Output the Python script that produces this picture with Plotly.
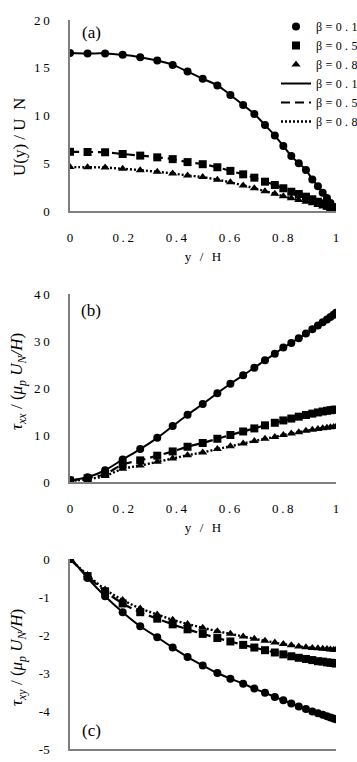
import plotly.graph_objects as go

# ---- data ----
y_over_H = [0, 0.066, 0.132, 0.198, 0.264, 0.328, 0.386, 0.442, 0.499, 0.554, 0.603, 0.651,
            0.693, 0.733, 0.770, 0.802, 0.832, 0.860, 0.887, 0.911, 0.932, 0.950, 0.966,
            0.979, 0.991, 1.0]

U_b01 = [16.55, 16.5, 16.5, 16.35, 16.1, 15.75, 15.3, 14.6, 13.85, 13.15, 12.15, 11.1,
         10.15, 9.0, 7.9, 6.8, 5.75, 5.0, 4.3, 3.3, 2.6, 1.9, 1.35, 0.85, 0.45, 0.05]
U_b05 = [6.2, 6.18, 6.15, 5.97, 5.8, 5.62, 5.43, 5.12, 4.9, 4.58, 4.2, 3.84,
         3.49, 3.07, 2.72, 2.38, 2.02, 1.78, 1.5, 1.23, 0.97, 0.8, 0.58, 0.4, 0.25, 0.05]
U_b08 = [4.6, 4.58, 4.55, 4.42, 4.28, 4.1, 3.93, 3.72, 3.55, 3.28, 3.0, 2.68,
         2.38, 2.08, 1.8, 1.55, 1.33, 1.15, 0.98, 0.8, 0.63, 0.48, 0.35, 0.22, 0.12, 0.03]

txx_b01 = [0.4, 1.0, 2.5, 4.8, 7.0, 9.4, 11.9, 14.3, 16.6, 18.9, 20.9, 22.7,
           24.3, 25.9, 27.3, 28.6, 29.6, 30.6, 31.6, 32.5, 33.3, 34.0, 34.6, 35.1, 35.6, 36.0]
txx_b05 = [0.3, 0.8, 1.7, 3.7, 4.6, 5.6, 6.5, 7.5, 8.3, 9.2, 10.0, 10.75,
           11.4, 12.05, 12.6, 13.1, 13.5, 13.9, 14.25, 14.55, 14.8, 15.0, 15.15, 15.27, 15.36, 15.4]
txx_b08 = [0.2, 0.6, 1.3, 2.8, 3.5, 4.3, 5.0, 5.7, 6.3, 7.0, 7.6, 8.2,
           8.7, 9.2, 9.6, 10.0, 10.3, 10.6, 10.9, 11.1, 11.3, 11.45, 11.55, 11.65, 11.72, 11.75]

txy_b01 = [0.05, -0.5, -0.98, -1.4, -1.77, -2.06, -2.33, -2.58, -2.8, -3.0, -3.15, -3.28,
           -3.41, -3.52, -3.63, -3.72, -3.8, -3.88, -3.95, -4.01, -4.06, -4.1, -4.14, -4.17, -4.2, -4.22]
txy_b05 = [0.0, -0.45, -0.85, -1.17, -1.4, -1.57, -1.72, -1.85, -1.97, -2.08, -2.17, -2.26,
           -2.33, -2.4, -2.46, -2.51, -2.56, -2.6, -2.63, -2.66, -2.69, -2.7, -2.72, -2.73, -2.74, -2.75]
txy_b08 = [0.0, -0.42, -0.8, -1.08, -1.3, -1.46, -1.6, -1.71, -1.81, -1.9, -1.97, -2.04,
           -2.1, -2.15, -2.2, -2.24, -2.27, -2.3, -2.32, -2.34, -2.35, -2.36, -2.37, -2.38, -2.385, -2.39]

beta_labels = ["β=0.1", "β=0.5", "β=0.8"]
x_ticks = [0, 0.2, 0.4, 0.6, 0.8, 1]
x_ticktext = ["0", "0.2", "0.4", "0.6", "0.8", "1"]
ya_ticks = [0, 5, 10, 15, 20]
yb_ticks = [0, 10, 20, 30, 40]
yc_ticks = [0, -1, -2, -3, -4, -5]

TS = "\u2009"
def spaced(s, sep=TS):
    return sep.join(list(s))

FONT = "Liberation Serif"
W, H = 357, 762

def px(x):
    return x / W

def py(y):
    return 1 - y / H

fig = go.Figure()

symbols = ["circle", "square", "triangle-up"]
dashes = ["solid", "9px,5px", "2px,2px"]
widths = [2, 2.2, 2.4]
panels = [
    ("x", "y", [U_b01, U_b05, U_b08]),
    ("x2", "y2", [txx_b01, txx_b05, txx_b08]),
    ("x3", "y3", [txy_b01, txy_b05, txy_b08]),
]

LEG_SEP = "\u2009\u200a"
for pi, (xa, ya, series) in enumerate(panels):
    for si, vals in enumerate(series):
        fig.add_trace(go.Scatter(
            x=y_over_H, y=vals, xaxis=xa, yaxis=ya, mode="lines",
            line=dict(color="black", width=widths[si], dash=dashes[si], shape="spline"),
            name=spaced(beta_labels[si], LEG_SEP), legendgroup="l%d" % si, legendrank=10 + si,
            showlegend=(pi == 0)))
    for si, vals in enumerate(series):
        fig.add_trace(go.Scatter(
            x=y_over_H, y=vals, xaxis=xa, yaxis=ya, mode="markers",
            marker=dict(symbol=symbols[si], size=8, color="black"),
            name=spaced(beta_labels[si], LEG_SEP), legendgroup="m%d" % si, legendrank=si,
            showlegend=(pi == 0)))

axis_common = dict(showgrid=False, zeroline=False, showline=True, linecolor="#7f7f7f",
                   linewidth=1.5, ticks="", color="black",
                   tickfont=dict(family=FONT, size=13, color="black"))

xdom = [px(70), px(336)]
fig.update_layout(
    width=W, height=H,
    margin=dict(l=0, r=0, t=0, b=0, autoexpand=False),
    paper_bgcolor="white", plot_bgcolor="white",
    showlegend=True,
    legend=dict(x=px(276), y=py(12), xanchor="left", yanchor="top",
                bgcolor="rgba(0,0,0,0)", font=dict(family=FONT, size=12, color="black"),
                tracegroupgap=0),
    xaxis=dict(domain=xdom, anchor="y", range=[0, 1], tickvals=x_ticks,
               ticktext=[spaced(t) for t in x_ticktext], ticklabelstandoff=14,
               title=dict(text=spaced("y / H"), font=dict(family=FONT, size=13), standoff=8),
               **axis_common),
    yaxis=dict(domain=[py(211), py(20)], anchor="x", range=[0, 20], tickvals=ya_ticks,
               ticktext=[spaced(str(t)) for t in ya_ticks], ticklabelstandoff=16,
               **axis_common),
    xaxis2=dict(domain=xdom, anchor="y2", range=[0, 1], tickvals=x_ticks,
                ticktext=[spaced(t) for t in x_ticktext], ticklabelstandoff=14,
                title=dict(text=spaced("y / H"), font=dict(family=FONT, size=13), standoff=8),
                **axis_common),
    yaxis2=dict(domain=[py(482), py(294)], anchor="x2", range=[0, 40], tickvals=yb_ticks,
                ticktext=[spaced(str(t)) for t in yb_ticks], ticklabelstandoff=16,
                **axis_common),
    xaxis3=dict(domain=xdom, anchor="y3", range=[0, 1], tickvals=x_ticks,
                ticktext=[spaced(t) for t in x_ticktext], ticklabelstandoff=14,
                **axis_common),
    yaxis3=dict(domain=[py(749), py(559)], anchor="x3", range=[-5, 0], tickvals=yc_ticks,
                ticktext=[str(t) for t in yc_ticks], ticklabelstandoff=16,
                **axis_common),
)

ann_font = dict(family=FONT, size=17, color="black")
annotations = [
    dict(text="(a)", x=px(91), y=py(32)),
    dict(text="(b)", x=px(91), y=py(310)),
    dict(text="(c)", x=px(91), y=py(730)),
    dict(text="U(y) / U  N", x=px(20), y=py(137), textangle=-90),
    dict(text="<i>τ<sub>xx</sub></i> / (<i>μ<sub>p</sub> U<sub>N</sub>/H</i>)",
         x=px(18), y=py(382), textangle=-90),
    dict(text="<i>τ<sub>xy</sub></i> / (<i>μ<sub>p</sub> U<sub>N</sub>/H</i>)",
         x=px(18), y=py(658), textangle=-90),
]
for a in annotations:
    fig.add_annotation(xref="paper", yref="paper", showarrow=False,
                       xanchor="center", yanchor="middle", font=ann_font, **a)

fig.write_html("out.html")
